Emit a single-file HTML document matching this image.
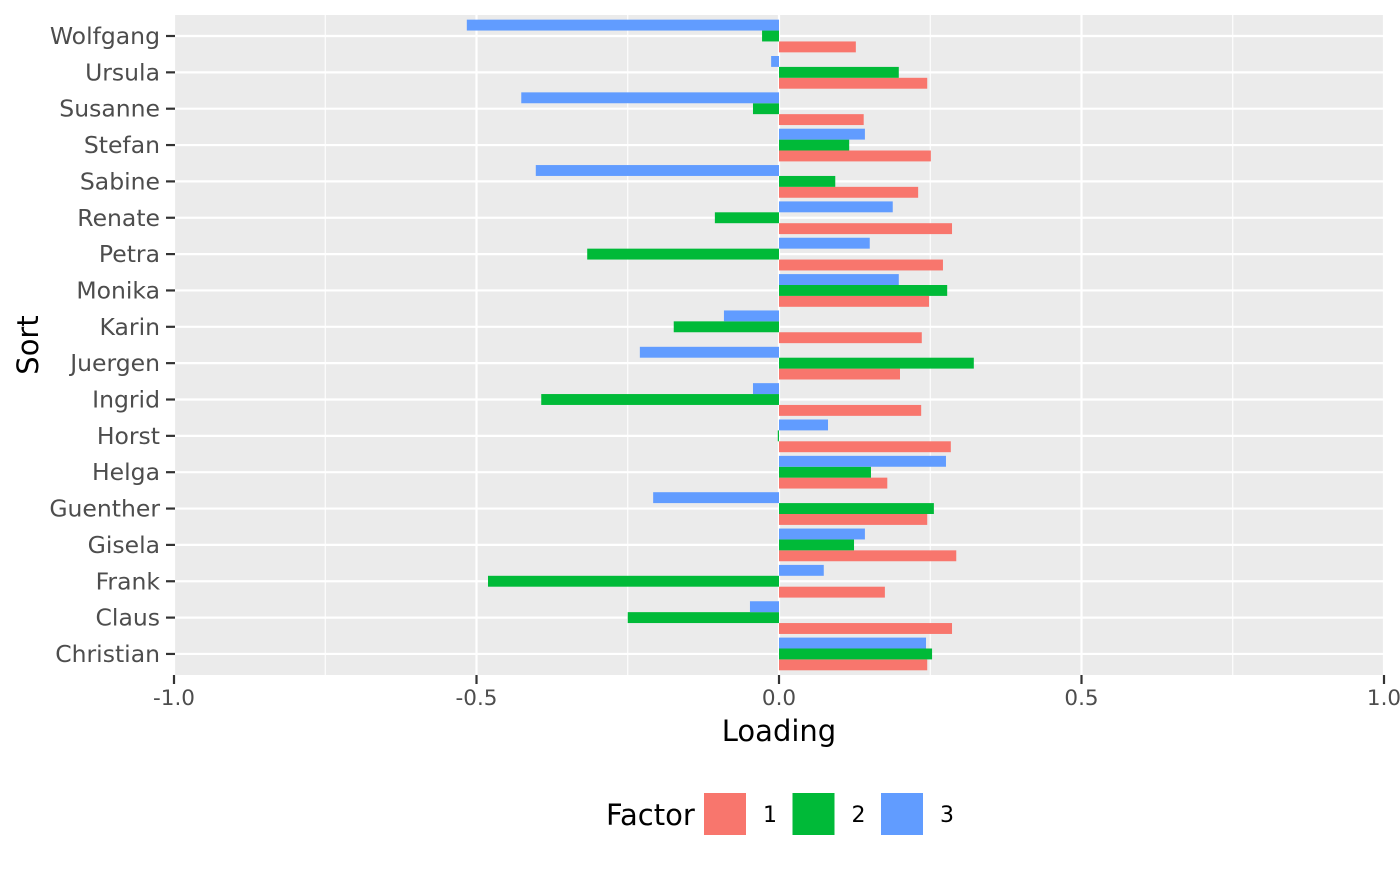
<!DOCTYPE html>
<html><head><meta charset="utf-8"><style>
body{margin:0;background:#fff;width:1400px;height:866px;overflow:hidden;font-family:"DejaVu Sans","Liberation Sans",sans-serif}
svg text{font-family:"DejaVu Sans","Liberation Sans",sans-serif}
</style></head><body>
<svg id="chart" width="1400" height="866" xmlns="http://www.w3.org/2000/svg"></svg>
<script>
const names=["Wolfgang","Ursula","Susanne","Stefan","Sabine","Renate","Petra","Monika","Karin","Juergen","Ingrid","Horst","Helga","Guenther","Gisela","Frank","Claus","Christian"];
const factor1=[0.127,0.245,0.14,0.251,0.23,0.286,0.271,0.248,0.236,0.2,0.235,0.284,0.179,0.245,0.293,0.175,0.286,0.245];
const factor2=[-0.028,0.198,-0.043,0.116,0.093,-0.106,-0.317,0.278,-0.174,0.322,-0.393,-0.002,0.152,0.256,0.124,-0.481,-0.25,0.253];
const factor3=[-0.516,-0.013,-0.426,0.142,-0.402,0.188,0.15,0.198,-0.091,-0.23,-0.043,0.081,0.276,-0.208,0.142,0.074,-0.048,0.243];
const xTicks=[-1,-0.5,0,0.5,1];
const xTickLabels=["-1.0","-0.5","0.0","0.5","1.0"];
const xMinor=[-0.75,-0.25,0.25,0.75];
const colors=["#F8766D","#00BA38","#619CFF"];
const factorLabels=["1","2","3"];

const svg=document.getElementById('chart');
const NS="http://www.w3.org/2000/svg";
const L=175,R=1385,T=15,B=675;
const xs=v=>779+v*605;
const rowY=i=>36+i*36.35;
function mk(tag,attrs,parent){const e=document.createElementNS(NS,tag);for(const k in attrs)e.setAttribute(k,attrs[k]);(parent||svg).appendChild(e);return e;}

const panel=mk('rect',{x:L,y:T,width:R-L,height:B-T,fill:'#EBEBEB'});


xMinor.forEach(v=>{const g=mk('line',{x1:xs(v),x2:xs(v),y1:T,y2:B,stroke:'#fff','stroke-width':1.1});

});
xTicks.forEach(v=>{const g=mk('line',{x1:xs(v),x2:xs(v),y1:T,y2:B,stroke:'#fff','stroke-width':2.2});

});
names.forEach((n,i)=>{const g=mk('line',{x1:L,x2:R,y1:rowY(i),y2:rowY(i),stroke:'#fff','stroke-width':2.2});

});

const bh=10.9;
const series=[factor1,factor2,factor3];
names.forEach((n,i)=>{
  const cy=rowY(i);
  series.forEach((s,k)=>{
    const v=s[i];
    const x0=Math.min(xs(0),xs(v)),w=Math.abs(xs(v)-xs(0));
    const r=mk('rect',{x:x0,y:cy-bh/2+(1-k)*bh,width:w,height:bh,fill:colors[k]});
    
    
  });
  const tk=mk('line',{x1:L-9,x2:L,y1:cy,y2:cy,stroke:'#333','stroke-width':2.2});
  
  
  const t=mk('text',{x:L-15,y:cy+8,'text-anchor':'end','font-size':23.5,fill:'#4D4D4D'});
  t.textContent=n;
  
  
});
xTicks.forEach((v,i)=>{
  const tk=mk('line',{x1:xs(v),x2:xs(v),y1:B,y2:B+9,stroke:'#333','stroke-width':2.2});
  
  
  const t=mk('text',{x:xs(v),y:B+30,'text-anchor':'middle','font-size':21.5,fill:'#4D4D4D'});
  t.textContent=xTickLabels[i];
  
  
});
const xt=mk('text',{x:779,y:741,'text-anchor':'middle','font-size':29,fill:'#000'});
xt.textContent='Loading';


const yt=mk('text',{x:0,y:0,'text-anchor':'middle','font-size':29,fill:'#000',transform:'translate(38,345) rotate(-90)'});
yt.textContent='Sort';



const lt=mk('text',{x:606,y:825,'font-size':29,fill:'#000'});
lt.textContent='Factor';


factorLabels.forEach((f,k)=>{
  const x=704+k*88.5;
  const r=mk('rect',{x:x,y:793,width:42,height:42,fill:colors[k]});
  
  
  const t=mk('text',{x:x+59,y:822,'font-size':22,fill:'#000'});
  t.textContent=f;
  
  
});
</script>
</body></html>
